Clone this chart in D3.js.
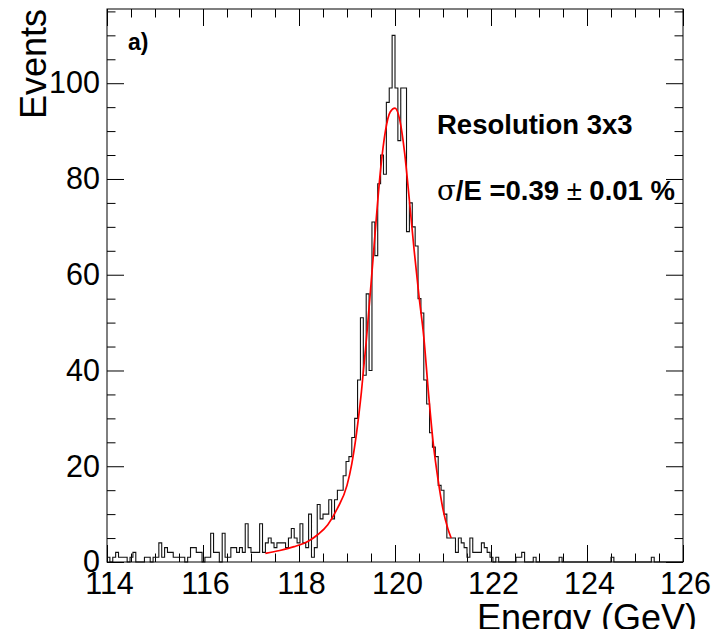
<!DOCTYPE html>
<html><head><meta charset="utf-8">
<script src="https://cdn.jsdelivr.net/npm/d3@7/dist/d3.min.js"></script>
<style>body{margin:0;background:#fff}svg{display:block}</style>
</head><body>
<svg id="chart" width="716" height="629"></svg>
<script>
// ---- data ----
const binLow = 114, binWidth = 0.06;           // 200 bins from 114 to 126 GeV
const counts = [
  1,0,1,2,1,1,1,0,1,2,
  0,0,0,1,1,0,1,1,4,1,
  3,2,2,1,1,1,1,0,1,3,
  3,2,2,0,1,1,6,2,2,0,
  6,1,1,3,3,2,3,2,8,3,
  2,2,2,8,2,4,5,4,3,4,
  4,4,3,5,7,5,4,8,4,3,
  10,1,3,12,9,10,10,13,9,13,
  15,15,18,21,22,26,30,38,51,39,
  56,40,71,64,79,85,81,96,99,110,
  99,88,99,99,69,75,70,66,55,52,
  38,33,27,24,22,16,15,10,5,5,
  5,2,5,4,3,1,5,2,2,2,
  4,3,2,1,0,1,0,0,0,0,
  0,0,1,1,2,0,0,0,1,0,
  0,0,0,0,0,0,0,1,0,0,
  0,0,0,0,0,0,0,0,0,0,
  0,0,0,0,0,1,0,0,0,0,
  0,0,0,0,0,0,0,0,0,1,
  0,0,0,0,0,0,0,0,0,0
];
const fitEnergy = [117.30,117.60,117.90,118.20,118.40,118.60,118.80,119.00,119.10,119.20,119.30,119.40,119.50,119.60,119.70,119.80,119.90,120.00,120.10,120.20,120.30,120.40,120.50,120.60,120.70,120.80,120.90,121.00,121.10,121.17];
const fitEvents = [1.8,2.4,3.2,4.4,5.8,7.8,11.2,16.0,20.5,27.0,35.5,46.0,58.0,70.5,82.0,90.0,94.0,94.8,92.3,85.5,75.5,65.0,55.5,47.0,35.0,24.5,17.0,11.0,7.0,5.0];
const xMajorTicks = [114,116,118,120,122,124,126];
const xMinorTicks = [114.5,115,115.5,116.5,117,117.5,118.5,119,119.5,120.5,121,121.5,122.5,123,123.5,124.5,125,125.5];
const yMajorTicks = [0,20,40,60,80,100];
const yMinorTicks = [5,10,15,25,30,35,45,50,55,65,70,75,85,90,95,105,110,115];
const xTitle = "Energy (GeV)", yTitle = "Events";
const panelLabel = "a)";
const boxTitle = "Resolution 3x3";
const resText = ["σ", "/E =0.39 ", "±", " 0.01 %"];

// ---- layout ----
const L = 107, R = 683, T = 9, B = 562;
const font = "'Liberation Sans', Arial, Helvetica, sans-serif";
const svg = d3.select("#chart");
const x = d3.scaleLinear().domain([114, 126]).range([L, R]);
const y = d3.scaleLinear().domain([0, 115.5]).range([B, T]);

function styleAxis(g, size) {
  g.attr("font-family", font).attr("font-size", size);
  g.select(".domain").remove();
  g.selectAll(".tick line").attr("stroke", "#000").attr("stroke-width", 1);
  g.selectAll(".tick text").attr("fill", "#000");
}
const MAJ = 17, MIN = 8.5;
// bottom
svg.append("g").attr("transform", `translate(0,${B})`)
  .call(d3.axisBottom(x).tickValues(xMajorTicks).tickSize(-MAJ).tickPadding(10).tickFormat(d3.format("d")))
  .call(g => styleAxis(g, 30.5)).selectAll(".tick text").attr("dx", 2);
svg.append("g").attr("transform", `translate(0,${B})`)
  .call(d3.axisBottom(x).tickValues(xMinorTicks).tickSize(-MIN).tickFormat(""))
  .call(g => styleAxis(g, 10));
// top
svg.append("g").attr("transform", `translate(0,${T})`)
  .call(d3.axisTop(x).tickValues(xMajorTicks).tickSize(-MAJ).tickFormat(""))
  .call(g => styleAxis(g, 10));
svg.append("g").attr("transform", `translate(0,${T})`)
  .call(d3.axisTop(x).tickValues(xMinorTicks).tickSize(-MIN).tickFormat(""))
  .call(g => styleAxis(g, 10));
// left
svg.append("g").attr("transform", `translate(${L},0)`)
  .call(d3.axisLeft(y).tickValues(yMajorTicks).tickSize(-MAJ).tickPadding(7).tickFormat(d3.format("d")))
  .call(g => styleAxis(g, 30.5));
svg.append("g").attr("transform", `translate(${L},0)`)
  .call(d3.axisLeft(y).tickValues(yMinorTicks).tickSize(-MIN).tickFormat(""))
  .call(g => styleAxis(g, 10));
// right
svg.append("g").attr("transform", `translate(${R},0)`)
  .call(d3.axisRight(y).tickValues(yMajorTicks).tickSize(-MAJ).tickFormat(""))
  .call(g => styleAxis(g, 10));
svg.append("g").attr("transform", `translate(${R},0)`)
  .call(d3.axisRight(y).tickValues(yMinorTicks).tickSize(-MIN).tickFormat(""))
  .call(g => styleAxis(g, 10));

// histogram step outline
const steps = [];
counts.forEach((c, i) => {
  const e0 = binLow + i * binWidth, e1 = e0 + binWidth;
  steps.push([e0, c], [e1, c]);
});
const histLine = d3.line().x(d => x(d[0])).y(d => y(d[1]));
svg.append("path").datum(steps).attr("d", histLine)
  .attr("fill", "none").attr("stroke", "#111").attr("stroke-width", 1.1);

// fit curve
const fitPts = fitEnergy.map((e, i) => [e, fitEvents[i]]);
svg.append("path").datum(fitPts)
  .attr("d", d3.line().x(d => x(d[0])).y(d => y(d[1])).curve(d3.curveMonotoneX))
  .attr("fill", "none").attr("stroke", "#ff0000").attr("stroke-width", 1.7);

// frame
svg.append("rect").attr("x", L).attr("y", T).attr("width", R - L).attr("height", B - T)
  .attr("fill", "none").attr("stroke", "#000").attr("stroke-width", 1);

// titles
svg.append("text").attr("transform", `translate(46,${T}) rotate(-90)`)
  .attr("text-anchor", "end").attr("font-family", font).attr("font-size", 36).text(yTitle);
svg.append("text").attr("x", 697).attr("y", 630).attr("text-anchor", "end")
  .attr("font-family", font).attr("font-size", 36).text(xTitle);

// labels
svg.append("text").attr("x", 128).attr("y", 50).attr("font-family", font)
  .attr("font-weight", "bold").attr("font-size", 23).text(panelLabel);
svg.append("text").attr("x", 437).attr("y", 134).attr("font-family", font)
  .attr("font-weight", "bold").attr("font-size", 27.5).text(boxTitle);
const rt = svg.append("text").attr("x", 437).attr("y", 200).attr("font-family", font)
  .attr("font-size", 27.5);
rt.append("tspan").attr("font-family", "'DejaVu Serif', serif").text(resText[0]);
rt.append("tspan").attr("font-weight", "bold").text(resText[1]);
rt.append("tspan").text(resText[2]);
rt.append("tspan").attr("font-weight", "bold").text(resText[3]);
</script>
</body></html>
